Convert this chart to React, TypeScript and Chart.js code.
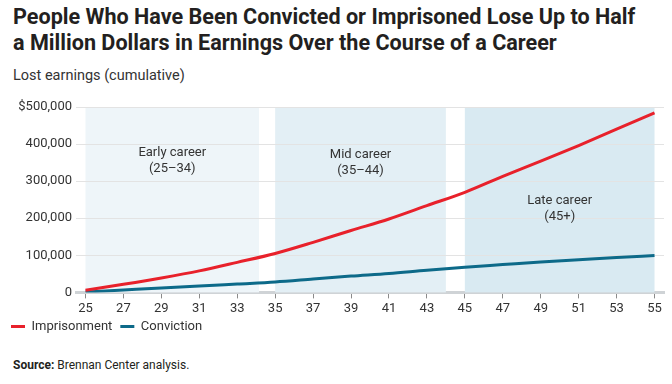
import React, { useEffect, useRef } from "react";
import { Chart, registerables } from "chart.js";

Chart.register(...registerables);

const ages = [25, 27, 29, 31, 33, 35, 37, 39, 41, 43, 45, 47, 49, 51, 53, 55];
const imprisonment = [6000, 22000, 39000, 58000, 81000, 105000, 135000, 167000, 198000, 234000, 270000, 313000, 354000, 396000, 440000, 484000];
const conviction = [1000, 6500, 12000, 17000, 22500, 28000, 36000, 44000, 51000, 60000, 68000, 75000, 82000, 88000, 94000, 99500];
const xTicks = [25, 27, 29, 31, 33, 35, 37, 39, 41, 43, 45, 47, 49, 51, 53, 55];
const yTicks = [0, 100000, 200000, 300000, 400000, 500000];
const bandStarts = [25, 35, 45];
const bandEnds = [34.15, 44, 55];
const bandNames = ["Early career", "Mid career", "Late career"];
const bandRanges = ["(25–34)", "(35–44)", "(45+)"];

const bandColors = ["#eef5f9", "#e3eff5", "#d9eaf2"];
const bandLabelOffsets = [46, 48, 94];
const LEGEND_SHIFT = 8;
const FONT = "Roboto, 'Open Sans', sans-serif";

const bandsPlugin = {
  id: "bands",
  afterLayout(chart: any) {
    const lg = chart.legend;
    if (lg) {
      lg.top -= LEGEND_SHIFT;
      lg.bottom -= LEGEND_SHIFT;
    }
  },
  beforeDatasetsDraw(chart: any) {
    const { ctx, chartArea, scales } = chart;
    const x = scales.x;
    ctx.save();
    for (let i = 0; i < bandStarts.length; i++) {
      const x0 = x.getPixelForValue(bandStarts[i]);
      const x1 = x.getPixelForValue(bandEnds[i]);
      ctx.fillStyle = bandColors[i];
      ctx.fillRect(x0, chartArea.top, x1 - x0, chartArea.bottom - chartArea.top);
    }
    const y = scales.y;
    ctx.strokeStyle = "#e3e3e3";
    ctx.lineWidth = 1;
    for (const v of yTicks) {
      if (v === 0) continue;
      const py = Math.round(y.getPixelForValue(v)) + 0.5;
      ctx.beginPath();
      ctx.moveTo(chartArea.left, py);
      ctx.lineTo(chartArea.right, py);
      ctx.stroke();
    }
    ctx.fillStyle = "#333333";
    ctx.font = `13px ${FONT}`;
    ctx.textAlign = "center";
    ctx.textBaseline = "middle";
    for (let i = 0; i < bandStarts.length; i++) {
      const cx = (x.getPixelForValue(bandStarts[i]) + x.getPixelForValue(bandEnds[i])) / 2;
      const ty = chartArea.top + bandLabelOffsets[i];
      ctx.fillText(bandNames[i], cx, ty);
      ctx.fillText(bandRanges[i], cx, ty + 16);
    }
    ctx.restore();
  },
};

export default function App() {
  const ref = useRef<HTMLCanvasElement>(null);
  useEffect(() => {
    const canvas = ref.current;
    if (!canvas) return;
    const chart = new Chart(canvas, {
      type: "line",
      data: {
        datasets: [
          {
            label: "Imprisonment",
            data: ages.map((a, i) => ({ x: a, y: imprisonment[i] })),
            borderColor: "#e8212b",
            backgroundColor: "#e8212b",
            borderWidth: 3,
            pointRadius: 0,
            cubicInterpolationMode: "monotone",
          },
          {
            label: "Conviction",
            data: ages.map((a, i) => ({ x: a, y: conviction[i] })),
            borderColor: "#0d6a89",
            backgroundColor: "#0d6a89",
            borderWidth: 3,
            pointRadius: 0,
            cubicInterpolationMode: "monotone",
          },
        ],
      },
      options: {
        animation: false,
        responsive: false,
        maintainAspectRatio: false,
        layout: { padding: { left: 3, right: 8, top: 15, bottom: 1 } },
        scales: {
          x: {
            type: "linear",
            min: 24.5,
            max: 55.5,
            afterBuildTicks: (scale: any) => {
              scale.ticks = xTicks.map((v) => ({ value: v }));
            },
            ticks: {
              autoSkip: false,
              maxRotation: 0,
              color: "#333333",
              font: { family: FONT, size: 13 },
              padding: 3,
              callback: (v: any) => String(v),
            },
            grid: {
              drawOnChartArea: false,
              drawTicks: true,
              tickLength: 6,
              color: "#8a8a8a",
            },
            border: { display: true, color: "#cfd3d6", width: 3 },
          },
          y: {
            min: 0,
            max: 500000,
            afterBuildTicks: (scale: any) => {
              scale.ticks = yTicks.map((v) => ({ value: v }));
            },
            afterFit: (scale: any) => {
              scale.width = 73;
            },
            ticks: {
              color: "#333333",
              font: { family: FONT, size: 13 },
              padding: 4,
              callback: (v: any) =>
                v === 500000 ? "$500,000" : Number(v).toLocaleString("en-US"),
            },
            grid: { display: false, drawTicks: false },
            border: { display: false },
          },
        },
        plugins: {
          legend: {
            position: "bottom",
            align: "start",
            labels: {
              boxWidth: 14,
              boxHeight: 3,
              padding: 8,
              color: "#333333",
              font: { family: FONT, size: 13 },
              generateLabels: (c: any) =>
                Chart.defaults.plugins.legend.labels
                  .generateLabels(c)
                  .map((l: any) => ({ ...l, lineWidth: 0 })),
            },
          },
          tooltip: { enabled: false },
        },
      },
      plugins: [bandsPlugin],
    } as any);
    return () => chart.destroy();
  }, []);

  return (
    <div
      style={{
        position: "absolute",
        left: 0,
        top: 0,
        width: 672,
        height: 384,
        background: "#ffffff",
        fontFamily: FONT,
        color: "#231f20",
        overflow: "hidden",
      }}
    >
      <div
        style={{
          position: "absolute",
          left: 13,
          top: 4,
          width: 665,
          fontWeight: 700,
          fontSize: 21.6,
          lineHeight: "26px",
          whiteSpace: "nowrap",
        }}
      >
        People Who Have Been Convicted or Imprisoned Lose Up to Half
        <br />a Million Dollars in Earnings Over the Course of a Career
      </div>
      <div style={{ position: "absolute", left: 13, top: 67, fontSize: 14.5, color: "#333" }}>
        Lost earnings (cumulative)
      </div>
      <canvas
        ref={ref}
        width={672}
        height={260}
        style={{ position: "absolute", left: 0, top: 92, width: 672, height: 260 }}
      />
      <div style={{ position: "absolute", left: 13, top: 358, fontSize: 12, color: "#231f20" }}>
        <b>Source:</b> Brennan Center analysis.
      </div>
    </div>
  );
}
